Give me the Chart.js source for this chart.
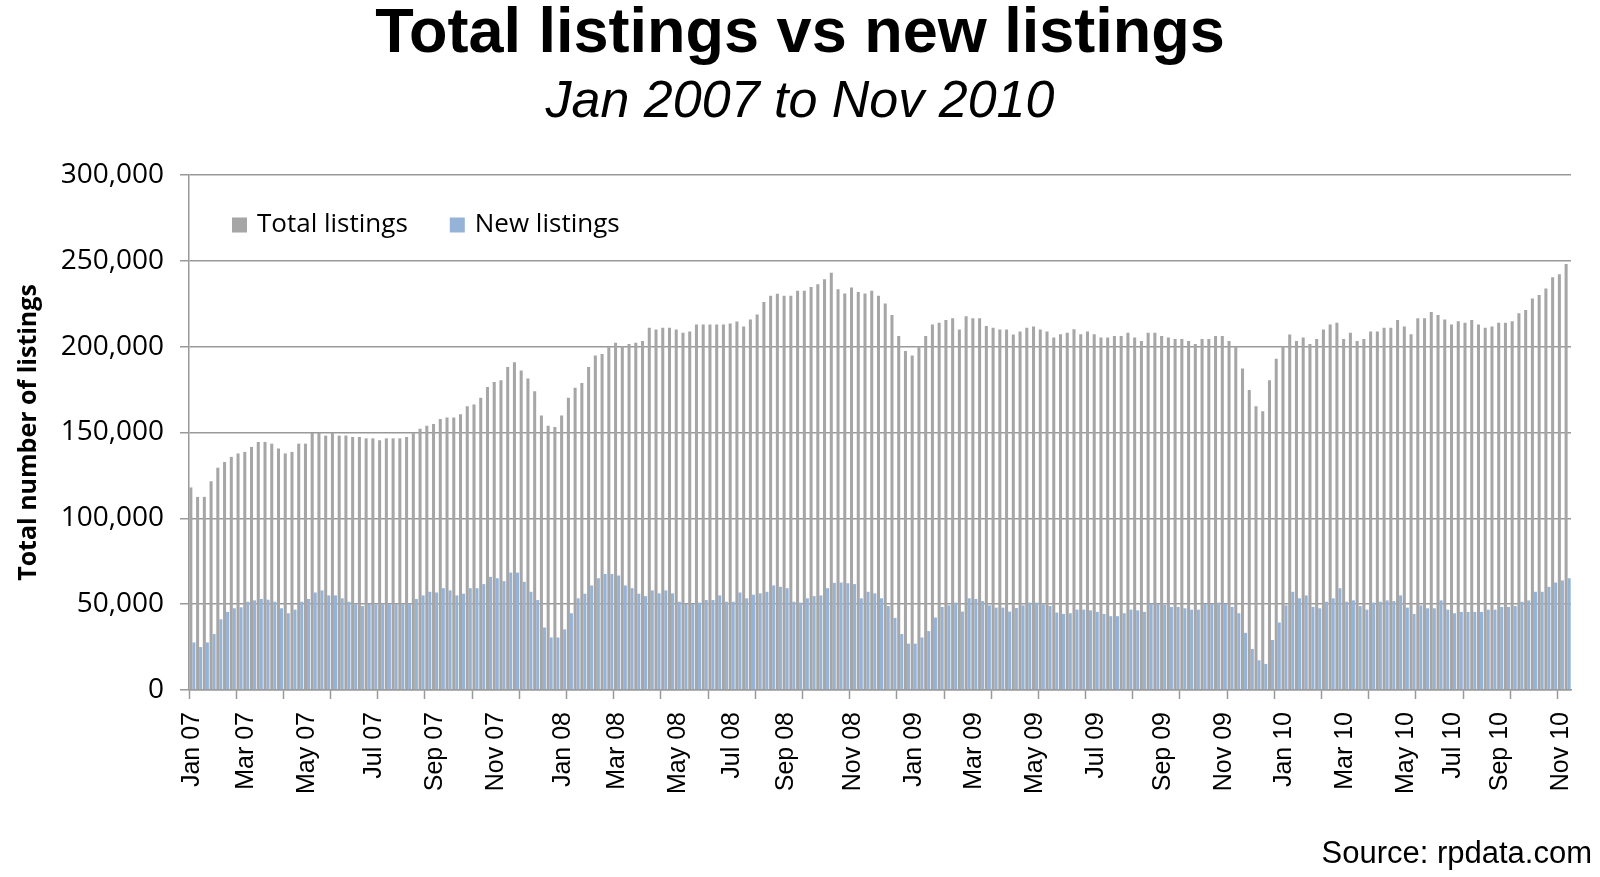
<!DOCTYPE html>
<html>
<head>
<meta charset="utf-8">
<title>Total listings vs new listings</title>
<style>
  html, body { margin: 0; padding: 0; background: #fff; }
  #wrap { position: relative; width: 1600px; height: 877px; }
  #source {
    position: absolute; right: 8px; top: 837px;
    font: 31px/31px "Liberation Sans", Arial, sans-serif; color: #000;
  }
</style>
<script src="https://cdn.jsdelivr.net/npm/chart.js@4.4.1/dist/chart.umd.min.js"></script>
</head>
<body>
<div id="wrap">
  <canvas id="listings-chart"></canvas>
  <div id="source">Source: rpdata.com</div>
</div>
<script>
// weekly figures, Jan 2007 - Nov 2010
var weeklyTotal = [
  118000, 112500, 112500, 121600, 129500, 132800, 135800, 137800, 138700, 141600,
  144500, 144500, 143500, 140700, 137800, 138700, 143500, 143500, 149700, 149700,
  148200, 149700, 148200, 148200, 147400, 147400, 146600, 146600, 145500, 146600,
  146600, 146600, 147400, 149500, 152200, 154000, 154900, 157800, 158800, 158800,
  160700, 165300, 166300, 170300, 176500, 179400, 180500, 188100, 190900, 186100,
  181500, 174000, 159900, 154000, 153200, 159900, 170300, 176100, 178800, 188100,
  194800, 195800, 199600, 202300, 200200, 201500, 202300, 203300, 211000, 210000,
  211000, 211000, 210000, 208100, 208900, 212900, 212900, 212900, 212900, 212900,
  213500, 214600, 211800, 215800, 218700, 226000, 229700, 230800, 229700, 229700,
  232600, 232600, 234700, 236400, 239300, 243000, 233500, 231000, 234500, 231800,
  231000, 232600, 229700, 225200, 218500, 206200, 197500, 194800, 199600, 206200,
  212900, 213900, 215600, 216600, 210000, 217700, 216600, 216600, 212100, 211000,
  210000, 210000, 207100, 208900, 211000, 211800, 210000, 208900, 205400, 207300,
  208100, 210200, 207300, 208900, 207300, 205400, 205400, 206200, 206200, 208100,
  205400, 203300, 208100, 208100, 206200, 205400, 204400, 204400, 203300, 201500,
  204400, 204400, 206200, 206200, 203300, 200200, 187300, 174800, 165300, 162400,
  180500, 192900, 200400, 207100, 203300, 205400, 201500, 204400, 210000, 212900,
  213900, 204400, 208100, 203300, 204400, 208900, 208900, 211000, 211000, 215600,
  211800, 207300, 216600, 216600, 220200, 218500, 215800, 212900, 214800, 213900,
  215600, 212900, 211000, 211800, 213900, 213900, 214800, 219500, 221400, 228100,
  230100, 233900, 240500, 242200, 248200
];

var weeklyNew = [
  27700, 25000, 27700, 32600, 41200, 45500, 47600, 48200, 51400, 52200,
  53000, 52600, 51400, 47600, 44700, 46800, 51400, 53000, 56800, 58000,
  55100, 55100, 53400, 51400, 49900, 48900, 50100, 49900, 50000, 50000,
  50000, 50000, 50000, 53000, 55100, 57200, 56800, 59300, 58000, 55100,
  56100, 59300, 59300, 61700, 65900, 65100, 63400, 68400, 68400, 63000,
  57200, 52400, 36400, 30600, 30600, 35300, 44700, 53400, 56100, 60900,
  65100, 67600, 67600, 66700, 60900, 59300, 56100, 54700, 58000, 56300,
  58000, 56300, 51400, 50100, 50100, 50900, 52400, 52400, 55100, 51400,
  51400, 56800, 53400, 55500, 56300, 57200, 60900, 60100, 59300, 51400,
  50900, 53400, 54700, 55100, 59300, 62400, 62600, 62200, 61700, 53400,
  57200, 56300, 53400, 48900, 42000, 32600, 27000, 27000, 30600, 34300,
  42200, 48400, 49300, 50900, 45700, 53400, 53000, 51800, 49300, 48000,
  48000, 45700, 47800, 49300, 50900, 50900, 49900, 48900, 45100, 44300,
  44700, 46800, 46800, 46400, 45500, 44300, 43000, 43000, 44700, 46800,
  46400, 45500, 50100, 50100, 49700, 48400, 48400, 47600, 46800, 46800,
  50100, 50100, 50900, 50100, 48400, 44700, 33300, 23900, 17300, 15200,
  29100, 39300, 49300, 57200, 53400, 55100, 48400, 47600, 51400, 53400,
  59300, 51400, 52200, 48900, 46800, 50900, 51400, 52200, 51800, 55100,
  48000, 44300, 49300, 47600, 47600, 52200, 46800, 44700, 45500, 45500,
  45500, 45500, 46800, 46800, 48400, 48400, 48900, 51400, 52200, 57200,
  57200, 60100, 62600, 63800, 65100
];

var monthLabels = [
  'Jan 07', 'Mar 07', 'May 07', 'Jul 07', 'Sep 07', 'Nov 07',
  'Jan 08', 'Mar 08', 'May 08', 'Jul 08', 'Sep 08', 'Nov 08',
  'Jan 09', 'Mar 09', 'May 09', 'Jul 09', 'Sep 09', 'Nov 09',
  'Jan 10', 'Mar 10', 'May 10', 'Jul 10', 'Sep 10', 'Nov 10'
];
// week each month label sits under
var monthLabelWeek = [
  0, 8, 17, 27, 36, 45, 55, 63, 72, 80, 88, 98,
  107, 116, 125, 134, 144, 153, 162, 171, 180, 187, 194, 203
];

var weeks = weeklyTotal.map(function (v, i) {
  return 'Week ' + (i + 1);
});

(function () {
  var canvas = document.getElementById('listings-chart');
  canvas.style.width = '1600px';
  canvas.style.height = '877px';

  var gray = '#a6a6a6';
  var blue = '#95b3d7';
  var axisGray = '#999999';
  var arial = '"Liberation Sans", Arial, sans-serif';
  var calibriLike = '"Open Sans", "Noto Sans", sans-serif';

  // legend sits inside the plot, under the 300,000 line
  var insideLegend = {
    id: 'insideLegend',
    afterDraw: function (chart) {
      var ctx = chart.ctx;
      var area = chart.chartArea;
      var x = area.left + 43;
      var y = area.top + 50;
      ctx.save();
      ctx.font = '26px ' + calibriLike;
      ctx.textBaseline = 'middle';
      ctx.textAlign = 'left';
      chart.data.datasets.forEach(function (ds) {
        ctx.fillStyle = ds.backgroundColor;
        ctx.fillRect(x, y - 7.5, 15, 15);
        ctx.fillStyle = '#000';
        ctx.fillText(ds.label, x + 25, y);
        x += 25 + ctx.measureText(ds.label).width + 42;
      });
      ctx.restore();
    },
  };

  new Chart(canvas, {
    type: 'bar',
    data: {
      labels: weeks,
      datasets: [{
        label: 'Total listings',
        data: weeklyTotal,
        backgroundColor: gray,
        categoryPercentage: 0.9,
        barPercentage: 1.0,
      }, {
        label: 'New listings',
        data: weeklyNew,
        backgroundColor: blue,
        categoryPercentage: 0.9,
        barPercentage: 1.0,
      }],
    },
    plugins: [insideLegend],
    options: {
      responsive: true,
      maintainAspectRatio: false,
      animation: false,
      layout: { padding: 0 },
      plugins: {
        title: {
          display: true,
          text: 'Total listings vs new listings',
          color: '#000',
          font: { family: arial, size: 63, weight: 'bold', lineHeight: 1 },
          padding: { top: 3, bottom: 0 },
        },
        subtitle: {
          display: true,
          text: 'Jan 2007 to Nov 2010',
          color: '#000',
          font: { family: arial, size: 52, style: 'italic', lineHeight: 1 },
          padding: { top: 11, bottom: 46 },
        },
        legend: { display: false },
        tooltip: { enabled: false },
      },
      scales: {
        x: {
          grid: {
            drawOnChartArea: false,
            offset: true,
            tickLength: 9,
            tickWidth: 1.5,
            tickColor: function (ctx) {
              return ctx.index % 7 === 0 ? axisGray : 'rgba(0,0,0,0)';
            },
          },
          border: { color: axisGray, width: 1.5 },
          ticks: {
            autoSkip: false,
            minRotation: 90,
            maxRotation: 90,
            padding: 13,
            color: '#000',
            font: { family: arial, size: 25 },
            callback: function (value, index) {
              var k = monthLabelWeek.indexOf(index);
              return k >= 0 ? monthLabels[k] : '';
            },
          },
          afterFit: function (scale) {
            scale.height = 187;
            scale.paddingRight = 29;
          },
        },
        y: {
          min: 0,
          max: 300000,
          ticks: {
            stepSize: 50000,
            padding: 16,
            color: '#000',
            font: { family: calibriLike, size: 28 },
            callback: function (value) {
              return value.toLocaleString('en-US');
            },
          },
          grid: { color: axisGray, lineWidth: 1.5, tickLength: 9 },
          border: { color: axisGray, width: 1.5 },
          title: {
            display: true,
            text: 'Total number of listings',
            color: '#000',
            font: { family: calibriLike, size: 25, weight: 'bold', lineHeight: 1.2 },
            padding: { top: 14, bottom: 0 },
          },
          afterFit: function (scale) {
            scale.width = 189;
          },
        },
      },
    },
  });
})();
</script>
</body>
</html>
